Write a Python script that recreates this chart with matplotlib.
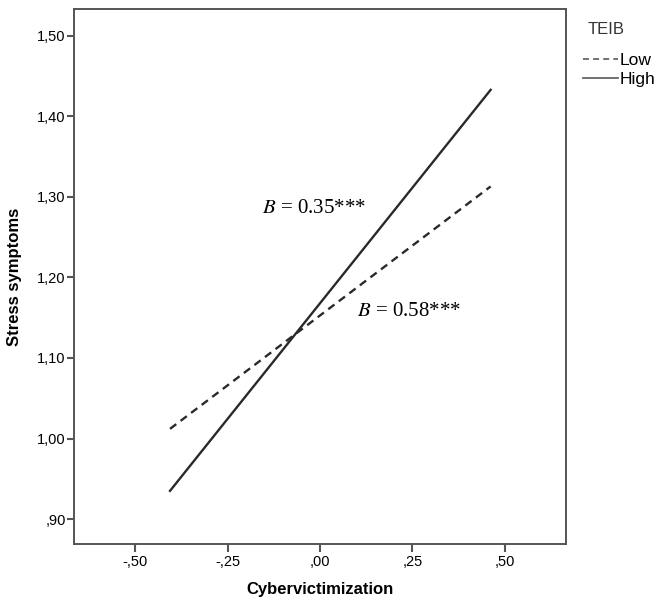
import matplotlib.pyplot as plt
import matplotlib as mpl

mpl.rcParams['font.family'] = ['Liberation Sans', 'DejaVu Sans']
mpl.rcParams['mathtext.fontset'] = 'stix'

# simple slopes
x_vals = [-0.406, 0.462]
low_vals = [1.012, 1.313]
high_vals = [0.935, 1.433]
group_names = ['Low', 'High']

x_ticks = [-0.50, -0.25, 0.00, 0.25, 0.50]
x_ticklabels = ['-,50', '-,25', ',00', ',25', ',50']
y_ticks = [0.90, 1.00, 1.10, 1.20, 1.30, 1.40, 1.50]
y_ticklabels = [',90', '1,00', '1,10', '1,20', '1,30', '1,40', '1,50']

annotations = [(-0.157, 1.286, r'$B$ = 0.35***'),
               (0.100, 1.158, r'$B$ = 0.58***')]

fig = plt.figure(figsize=(6.54, 6.02), dpi=100)
ax = fig.add_axes([74 / 654, 1 - 544 / 602, 492 / 654, 534.7 / 602])

line_col = '#2a2a2a'
ax.plot(x_vals, low_vals, color=line_col, lw=1.7, ls=(0, (3.3, 2.3)), label=group_names[0])
ax.plot(x_vals, high_vals, color=line_col, lw=1.7, label=group_names[1])

ax.set_xlim(-0.666, 0.666)
ax.set_ylim(0.869, 1.533)

ax.set_xticks(x_ticks)
ax.set_xticklabels(x_ticklabels)
ax.set_yticks(y_ticks)
ax.set_yticklabels(y_ticklabels)
ax.tick_params(axis='x', length=6, width=1.5, color='#555555', labelsize=10.5, pad=2)
ax.tick_params(axis='y', length=5, width=1.5, color='#555555', labelsize=10.5, pad=1)

for s in ax.spines.values():
    s.set_color('#555555')
    s.set_linewidth(1.4)

ax.set_xlabel('Cybervictimization', fontsize=12, fontweight='bold', labelpad=9)
ax.set_ylabel('Stress symptoms', fontsize=12, fontweight='bold', labelpad=11)

for ax_x, ax_y, txt in annotations:
    ax.text(ax_x, ax_y, txt, fontsize=15, family='Liberation Serif',
            ha='left', va='center')

# legend: title as separate text, entries below
fig.text(606 / 654, 1 - 29 / 602, 'TEIB', fontsize=12, color='#333333',
         ha='center', va='center')
leg = ax.legend(loc='upper left', bbox_to_anchor=(583 / 654, 1 - 53 / 602),
                bbox_transform=fig.transFigure,
                frameon=False, fontsize=12.5,
                handlelength=2.0, handletextpad=0.1, labelspacing=0.2,
                borderaxespad=0, borderpad=0)
for h in leg.get_lines():
    h.set_color('#666666')
    h.set_linewidth(1.3)

fig.savefig('out.png', dpi=100, facecolor='white')
